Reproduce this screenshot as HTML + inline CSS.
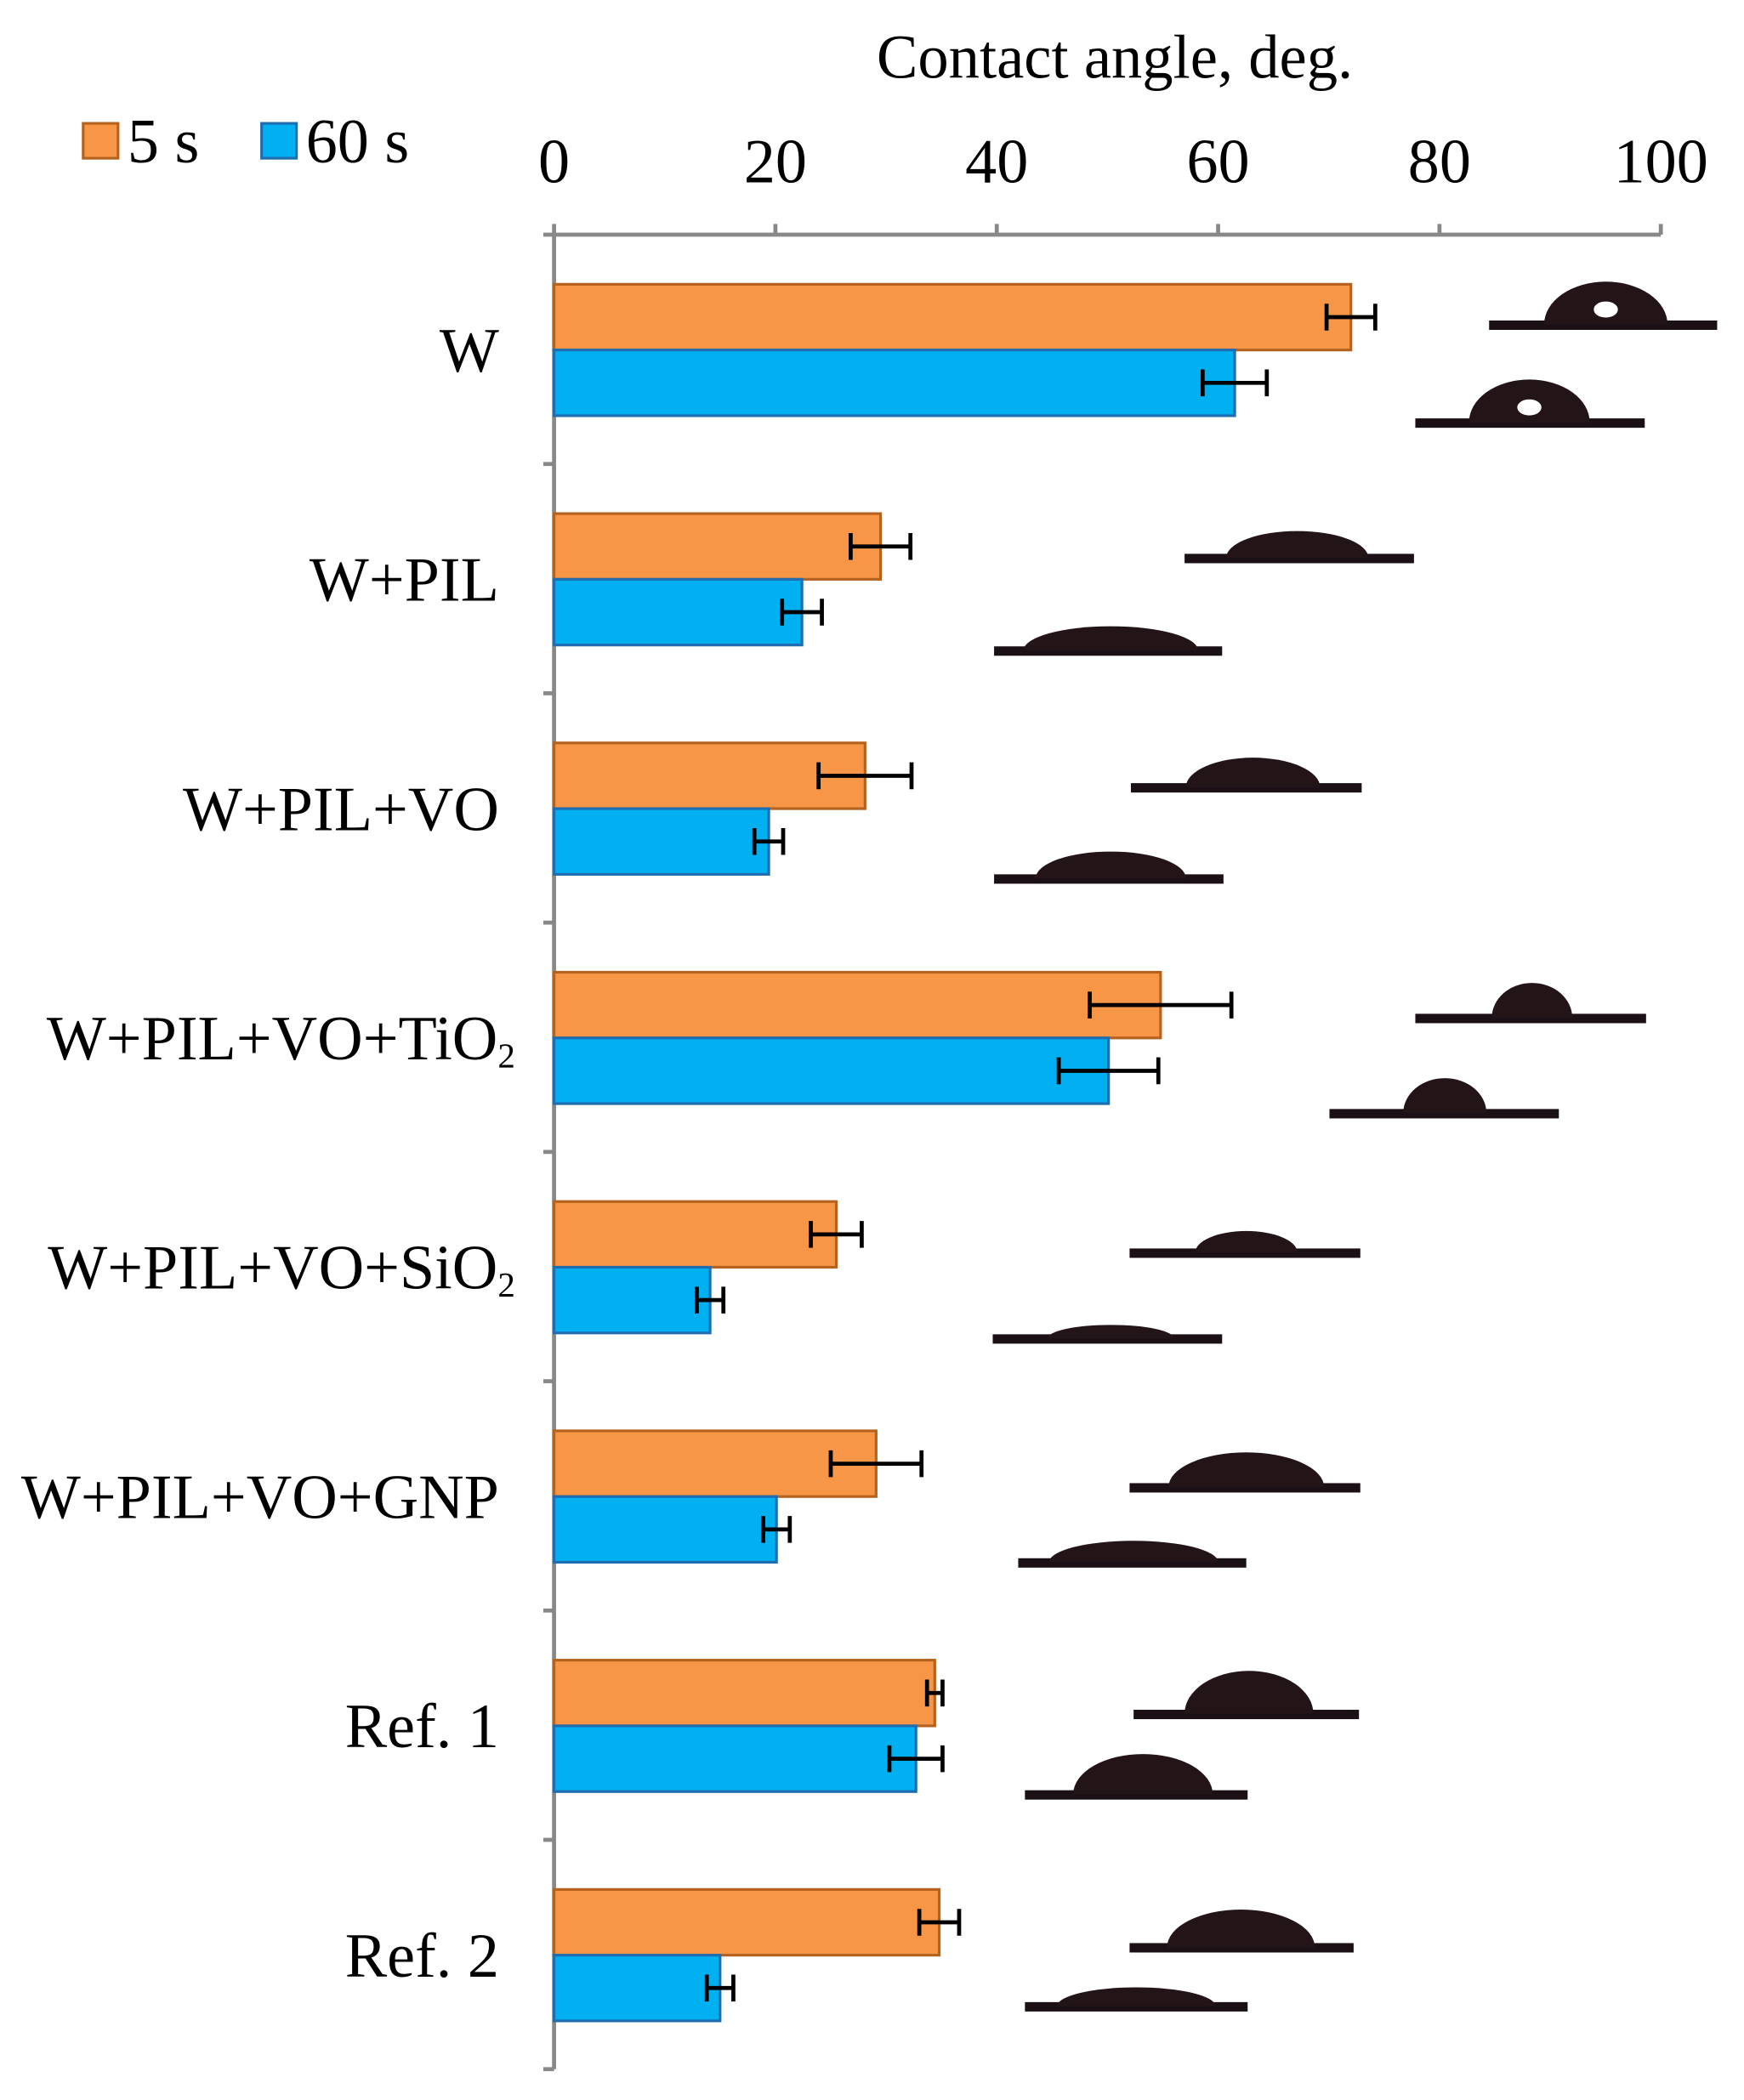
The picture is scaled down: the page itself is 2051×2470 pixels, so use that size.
<!DOCTYPE html>
<html><head><meta charset="utf-8"><style>
html,body{margin:0;padding:0;background:#fff}
svg{display:block}
text{font-family:"Liberation Serif",serif;fill:#000}
</style></head><body>
<svg id="chart" width="2051" height="2470" viewBox="0 0 1300 1566" preserveAspectRatio="none" xmlns="http://www.w3.org/2000/svg">
<g id="g"></g>
</svg>
<script>
const categories=["W","W+PIL","W+PIL+VO","W+PIL+VO+TiO2","W+PIL+VO+SiO2","W+PIL+VO+GNP","Ref. 1","Ref. 2"];
const values5s=[72.0,29.5,28.1,54.8,25.5,29.1,34.4,34.8];
const err5s=[2.2,2.7,4.2,6.4,2.3,4.1,0.7,1.8];
const values60s=[61.5,22.4,19.4,50.1,14.1,20.1,32.7,15.0];
const err60s=[2.9,1.8,1.3,4.5,1.2,1.2,2.4,1.2];
const ticks=[0,20,40,60,80,100];
const NS="http://www.w3.org/2000/svg";
const g=document.getElementById('g');
const X0=413,X1=1238,Y0=175,Y1=1543;
const bandH=(Y1-Y0)/categories.length;
function xs(v){return X0+(X1-X0)*v/100;}
function band(i){return Y0+i*bandH;}
function mk(tag,attrs,txt){const e=document.createElementNS(NS,tag);for(const k in attrs)e.setAttribute(k,attrs[k]);if(txt!==undefined)e.textContent=txt;g.appendChild(e);return e;}
let t=mk('text',{x:831,y:58,'font-size':46,'text-anchor':'middle'},'Contact angle, deg.');


let a=mk('line',{x1:X0,y1:Y0,x2:X1,y2:Y0,stroke:'#888','stroke-width':3});


a=mk('line',{x1:X0,y1:Y0,x2:X0,y2:Y1,stroke:'#888','stroke-width':3});


ticks.forEach(v=>{
  let l=mk('line',{x1:xs(v),y1:Y0-8,x2:xs(v),y2:Y0,stroke:'#888','stroke-width':3});
  
  
  let tt=mk('text',{x:xs(v),y:136,'font-size':47,'text-anchor':'middle'},String(v));
  
  
});
for(let i=0;i<=categories.length;i++){
  let l=mk('line',{x1:X0-8,y1:band(i),x2:X0,y2:band(i),stroke:'#888','stroke-width':3});
  
  
}
const bh=49, off=37;
categories.forEach((c,i)=>{
  const y=band(i)+off;
  let lab=mk('text',{x:372,y:y+bh+16,'font-size':47,'text-anchor':'end'});
  
  
  const m=c.match(/^(.*)(TiO|SiO)2$/);
  if(m){lab.setAttribute('x',384);const s1=document.createElementNS(NS,'tspan');s1.textContent=m[1]+m[2];lab.appendChild(s1);const s2=document.createElementNS(NS,'tspan');s2.setAttribute('font-size',26);s2.setAttribute('dy',6);s2.textContent='2';lab.appendChild(s2);}
  else lab.textContent=c;
  [[values5s,err5s,'#F79646','#B5621E',y,'bar-5s'],[values60s,err60s,'#00B0F0','#1F6DB0',y+bh,'bar-60s']].forEach(([vals,errs,fill,st,yy,nm])=>{
    let r=mk('rect',{x:xs(0),y:yy,width:xs(vals[i])-xs(0),height:bh,fill:fill,stroke:st,'stroke-width':2});
    
    
    const cy=yy+bh/2,e1=xs(vals[i]-errs[i]),e2=xs(vals[i]+errs[i]);
    let e=mk('path',{d:`M${e1},${cy}H${e2}M${e1},${cy-10}V${cy+10}M${e2},${cy-10}V${cy+10}`,stroke:'#000','stroke-width':3,fill:'none'});
    
    
  });
});
[[62,'#F79646','#B5621E','5 s'],[195,'#00B0F0','#1F6DB0','60 s']].forEach(([x,f,s,l])=>{
  let r=mk('rect',{x:x,y:92,width:26,height:26,fill:f,stroke:s,'stroke-width':2});
  
  
  let tt=mk('text',{x:x+33,y:121,'font-size':47},l);
  
  
});
const drops=[[1110,1280,242,1197,92,32,1],[1055,1226,315,1140,90,32,1],[883,1054,416,967,106,20,0],[741,911,485,828,130,18,0],[843,1015,587,934,100,22,0],[741,912,655,828,112,20,0],[1055,1227,759,1142,60,26,0],[991,1162,830,1077,62,26,0],[842,1014,934,929,76,16,0],[740,911,998,828,94,10,0],[842,1014,1109,929,116,26,0],[759,929,1165,845,126,16,0],[845,1013,1278,931,96,32,0],[764,930,1338,852,104,30,0],[842,1009,1452,925,110,28,0],[764,930,1496,847,118,14,0]];
drops.forEach(d=>{
  let b=mk('rect',{x:d[0],y:d[2]-3,width:d[1]-d[0],height:7,fill:'#1a1016'});
  
  
  const l=d[3]-d[4]/2,r=d[3]+d[4]/2;
  let p=mk('path',{d:`M${l},${d[2]} A${d[4]/2},${d[5]} 0 0 1 ${r},${d[2]} Z`,fill:'#231418'});
  
  
  if(d[6]){let h=mk('ellipse',{cx:d[3],cy:d[2]-d[5]*0.35,rx:9,ry:6,fill:'#fff'});}
});
</script>
</body></html>
